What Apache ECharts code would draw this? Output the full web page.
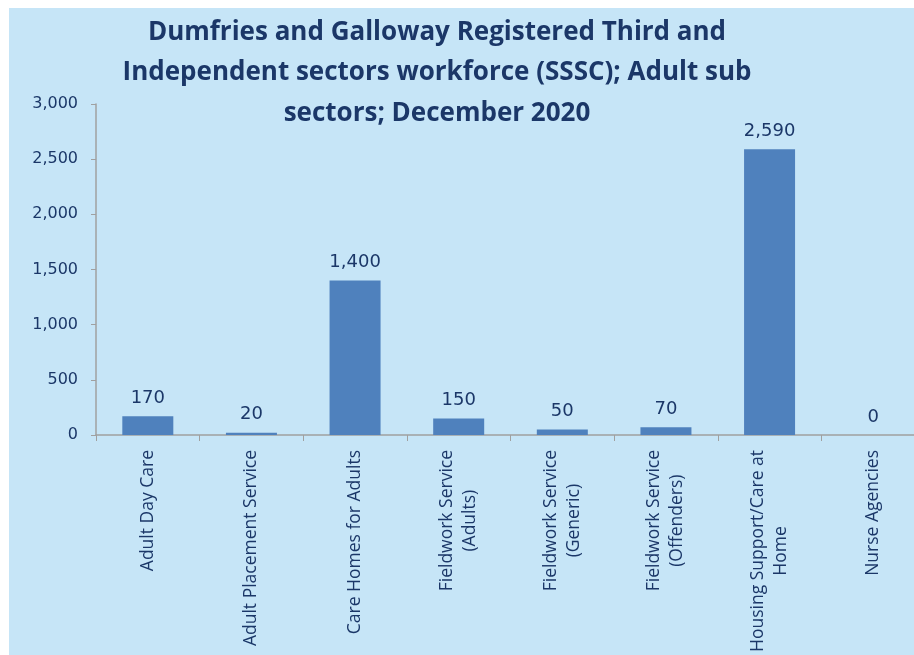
<!DOCTYPE html>
<html>
<head>
<meta charset="utf-8">
<script src="https://cdn.jsdelivr.net/npm/echarts@6/dist/echarts.min.js"></script>
<style>
html,body{margin:0;padding:0;background:#ffffff;overflow:hidden;width:914px;height:655px;}
#chart{position:absolute;left:9px;top:8px;width:920px;height:647px;background:#C6E5F7;}
</style>
</head>
<body>
<div id="chart"></div>
<script>
const titleLines = [
  'Dumfries and Galloway Registered Third and',
  'Independent sectors workforce (SSSC); Adult sub',
  'sectors; December 2020'
];
const categories = [
  'Adult Day Care',
  'Adult Placement Service',
  'Care Homes for Adults',
  'Fieldwork Service\n(Adults)',
  'Fieldwork Service\n(Generic)',
  'Fieldwork Service\n(Offenders)',
  'Housing Support/Care at\nHome',
  'Nurse Agencies'
];
const workforce = [170, 20, 1400, 150, 50, 70, 2590, 0];
const yTicks = { min: 0, max: 3000, interval: 500 };

const navy = '#1B3768';
const chart = echarts.init(document.getElementById('chart'));
chart.setOption({
  backgroundColor: '#C6E5F7',
  animation: false,
  title: {
    text: titleLines.join('\n'),
    left: 428,
    top: 4,
    padding: 0,
    textAlign: 'center',
    textStyle: {
      fontFamily: 'Open Sans',
      fontWeight: 'bold',
      fontSize: 26,
      lineHeight: 40.5,
      color: navy
    }
  },
  grid: { left: 87, right: 4, top: 96, bottom: 218, containLabel: false },
  xAxis: {
    type: 'category',
    data: categories,
    axisLine: { lineStyle: { color: '#A0A0A0', width: 1.5 } },
    axisTick: { show: true, length: 6, lineStyle: { color: '#A0A0A0' } },
    axisLabel: {
      rotate: 90,
      interval: 0,
      margin: 15,
      color: navy,
      fontFamily: 'Open Sans',
      fontSize: 17.5,
      formatter: function (v) {
        return v.split('\n').map(function (s) { return '{c|' + s + '}'; }).join('\n');
      },
      rich: {
        c: { align: 'center', color: navy, fontFamily: 'Open Sans', fontSize: 17.5, lineHeight: 23 }
      }
    }
  },
  yAxis: {
    type: 'value',
    min: yTicks.min,
    max: yTicks.max,
    interval: yTicks.interval,
    splitLine: { show: false },
    axisLine: { show: true, lineStyle: { color: '#A0A0A0', width: 1.5 } },
    axisTick: { show: true, length: 5, lineStyle: { color: '#A0A0A0' } },
    axisLabel: {
      margin: 18,
      color: navy,
      fontFamily: 'DejaVu Sans',
      fontSize: 16,
      formatter: function (v) { return v.toLocaleString('en-US'); }
    }
  },
  series: [{
    type: 'bar',
    data: workforce,
    barWidth: 51,
    itemStyle: { color: '#4F81BD' },
    label: {
      show: true,
      position: 'top',
      distance: 9,
      color: navy,
      fontFamily: 'DejaVu Sans',
      fontSize: 18,
      formatter: function (p) { return p.value.toLocaleString('en-US'); }
    }
  }]
});
</script>
</body>
</html>
